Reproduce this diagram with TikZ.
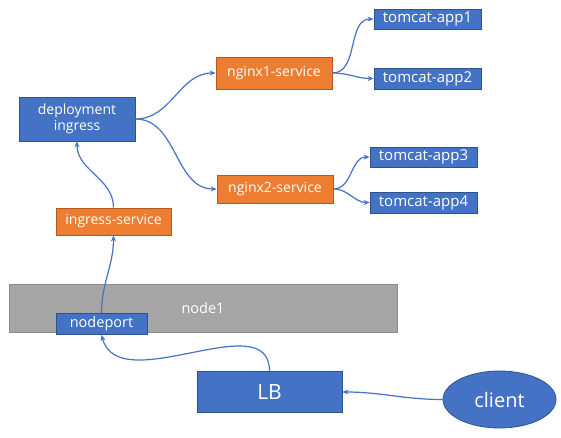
\documentclass[tikz,border=0pt]{standalone}
\usepackage{fontspec}
\setmainfont{Open Sans}
\usetikzlibrary{
	shapes.geometric,
	arrows.meta,
	positioning,
	calc
}
\definecolor{boxblue}{HTML}{4472C4}
\definecolor{boxblueline}{HTML}{2F528F}
\definecolor{boxorange}{HTML}{ED7D31}
\definecolor{boxorangeline}{HTML}{AE5A21}
\definecolor{boxgray}{HTML}{A5A5A5}
\definecolor{boxgrayline}{HTML}{8C8C8C}

\begin{document}
\begin{tikzpicture}[
				x=1pt, y=-1pt,
				stage/.style={
					rectangle, draw, inner sep=0pt,
					text=white, align=center, line width=0.8pt,
					font=\fontsize{14}{16}\selectfont
				},
				bluebox/.style={
					stage, fill=boxblue, draw=boxblueline
				},
				appbox/.style={
					bluebox, minimum width=107pt,
					font=\fontsize{15}{17}\selectfont
				},
				orangebox/.style={
					stage, fill=boxorange, draw=boxorangeline
				},
				graybox/.style={
					stage, fill=boxgray, draw=boxgrayline
				},
				arrow/.style={-{Stealth[length=6pt,width=5pt]}, line width=1.2pt, boxblue}
				]
				\useasboundingbox (0,0) rectangle (561,438);
				
				% node1 (host)
				\node[graybox, minimum width=388pt, minimum height=48pt, font=\fontsize{14.5}{17}\selectfont] (node1) at (203,308) {node1};
				
				% nodeport
				\node[bluebox, minimum width=91pt, minimum height=21pt, font=\fontsize{14.5}{17}\selectfont] (nodeport) at (101.5,324) {nodeport};
				
				% ingress-service
				\node[orangebox, minimum width=115pt, minimum height=27pt] (ingressSvc) at (113.5,221.5) {ingress-service};
				
				% deployment ingress
				\node[bluebox, minimum width=116pt, minimum height=44pt] (ingress) at (77,119) {deployment\\ingress};
				
				% nginx services
				\node[orangebox, minimum width=116pt, minimum height=32pt] (nginx1) at (274,73) {nginx1-service};
				\node[orangebox, minimum width=116pt, minimum height=28pt] (nginx2) at (275,189) {nginx2-service};
				
				% tomcat apps
				\node[appbox, minimum height=20pt] (app1) at (427.5,19) {tomcat-app1};
				\node[appbox, minimum height=21pt] (app2) at (427.5,78.5) {tomcat-app2};
				\node[appbox, minimum height=20pt] (app3) at (423.5,157) {tomcat-app3};
				\node[appbox, minimum height=21pt] (app4) at (423.5,202.5) {tomcat-app4};
				
				% LB
				\node[bluebox, minimum width=145pt, minimum height=41pt, font=\fontsize{21}{24}\selectfont] (lb) at (269.5,392) {LB};
				
				% client
				\node[ellipse, draw=boxblueline, fill=boxblue, text=white, inner sep=0pt, line width=0.8pt,
					minimum width=113pt, minimum height=57pt, font=\fontsize{20}{24}\selectfont] (client) at (499.5,399.5) {client};
				
				% connectors
				\draw[arrow] (client.west) to[out=180, in=0] (lb.east);
				\draw[arrow] (lb.north) to[out=90, in=-75] (nodeport.south);
				\draw[arrow] (nodeport.north) to[out=90, in=-90] (ingressSvc.south);
				\draw[arrow] (ingressSvc.north) to[out=90, in=-90] (ingress.south);
				\draw[arrow] (ingress.east) to[out=0, in=180] (nginx1.west);
				\draw[arrow] (ingress.east) to[out=0, in=180] (nginx2.west);
				\draw[arrow] (nginx1.east) to[out=0, in=180] (app1.west);
				\draw[arrow] (nginx1.east) to[out=0, in=180] (app2.west);
				\draw[arrow] (nginx2.east) to[out=0, in=180] (app3.west);
				\draw[arrow] (nginx2.east) to[out=0, in=180] (app4.west);
			\end{tikzpicture}
\end{document}
